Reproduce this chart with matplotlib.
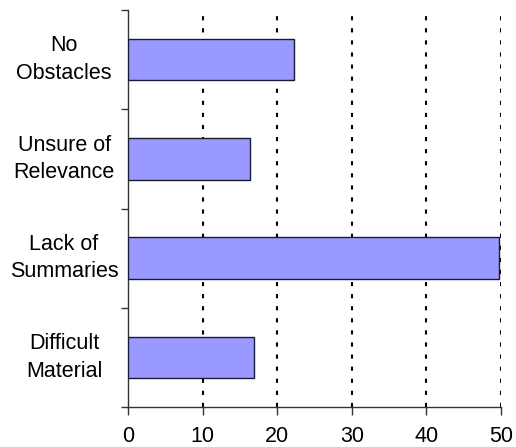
import matplotlib
matplotlib.use("Agg")
import matplotlib.pyplot as plt
import numpy as np

plt.rcParams['font.family'] = ['Liberation Sans', 'DejaVu Sans']

categories = ["No\nObstacles", "Unsure of\nRelevance", "Lack of\nSummaries", "Difficult\nMaterial"]
values = [22.2, 16.4, 49.7, 16.9]
x_ticks = [0, 10, 20, 30, 40, 50]

fig = plt.figure(figsize=(5.16, 4.47), dpi=100)
W, H = 516, 447
ax = fig.add_axes([128 / W, (H - 407) / H, (501 - 128) / W, (407 - 10) / H])

pos = np.arange(len(categories))[::-1]
ax.barh(pos, values, height=0.42, color="#9999ff", edgecolor="#1a1a33",
        linewidth=1.0, zorder=3)

ax.set_xlim(0, 50)
ax.set_ylim(-0.5, len(categories) - 0.5)

ax.set_xticks(x_ticks)
ax.set_xticklabels([str(t) for t in x_ticks], fontsize=15.5)
ax.tick_params(axis="x", direction="out", length=6, width=1, color="#333333", pad=8)

ax.set_yticks(pos)
ax.set_yticklabels(categories, fontsize=15.5, ha="center", va="center", linespacing=1.4)
ax.tick_params(axis="y", which="major", length=0, pad=46)
ax.set_yticks(np.arange(-0.5, len(categories), 1.0), minor=True)
ax.tick_params(axis="y", which="minor", direction="out", length=5, width=1, color="#333333")

for t in x_ticks[1:]:
    ax.axvline(t, color="black", linewidth=1.5, linestyle=(0, (2, 3.8)), zorder=1)

for side in ("top", "right"):
    ax.spines[side].set_visible(False)
for side in ("left", "bottom"):
    ax.spines[side].set_color("#333333")
    ax.spines[side].set_linewidth(1.0)

fig.savefig("out.png", dpi=100)
